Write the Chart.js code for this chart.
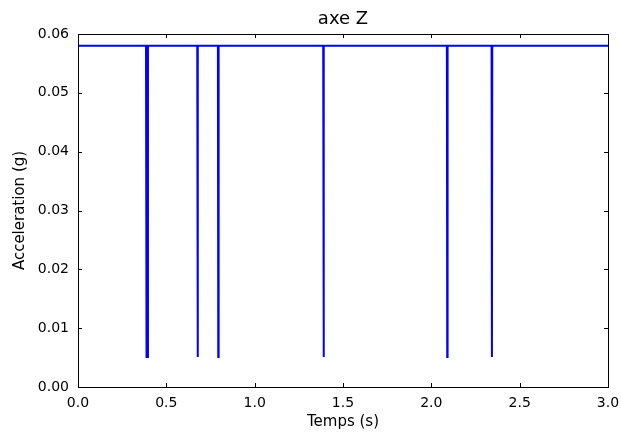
<!DOCTYPE html>
<html>
<head>
<meta charset="utf-8">
<script src="https://cdn.jsdelivr.net/npm/chart.js@4.4.1/dist/chart.umd.min.js"></script>
<style>
  html, body { margin: 0; padding: 0; background: #fff; }
  canvas { display: block; }
</style>
</head>
<body>
<canvas id="axeZChart" width="621" height="434"></canvas>
<script>
// signal samples (s, g)
const times = [0.000, 0.385, 0.388, 0.393, 0.396, 0.675, 0.677, 0.679,
               0.792, 0.794, 0.796, 1.388, 1.390, 1.392, 2.088, 2.090,
               2.092, 2.341, 2.343, 2.345, 3.000];
const accel = [0.058, 0.058, 0.0051, 0.0051, 0.058, 0.058, 0.0051, 0.058,
               0.058, 0.0051, 0.058, 0.058, 0.0051, 0.058, 0.058, 0.0051,
               0.058, 0.058, 0.0051, 0.058, 0.058];

const xTicks = [0, 0.5, 1.0, 1.5, 2.0, 2.5, 3.0];
const yTicks = [0, 0.01, 0.02, 0.03, 0.04, 0.05, 0.06];

const FONT = 'DejaVu Sans';

// box around the axes with small inward ticks on all four sides
const framePlugin = {
    id: 'frame',
    afterDatasetsDraw(chart) {
        const { ctx, chartArea: a, scales } = chart;
        const len = 4;
        ctx.save();
        ctx.strokeStyle = '#000';
        ctx.lineWidth = 1;
        ctx.beginPath();
        xTicks.forEach(v => {
            const px = Math.round(scales.x.getPixelForValue(v)) + 0.5;
            ctx.moveTo(px, a.bottom); ctx.lineTo(px, a.bottom - len);
            ctx.moveTo(px, a.top); ctx.lineTo(px, a.top + len);
        });
        yTicks.forEach(v => {
            const py = Math.round(scales.y.getPixelForValue(v)) + 0.5;
            ctx.moveTo(a.left, py); ctx.lineTo(a.left + len, py);
            ctx.moveTo(a.right, py); ctx.lineTo(a.right - len, py);
        });
        ctx.stroke();
        ctx.strokeRect(Math.round(a.left) + 0.5, Math.round(a.top) + 0.5,
                       Math.round(a.right - a.left), Math.round(a.bottom - a.top));
        ctx.restore();
    }
};

new Chart(document.getElementById('axeZChart').getContext('2d'), {
    type: 'scatter',
    data: {
        datasets: [{
            data: times.map((t, i) => ({ x: t, y: accel[i] })),
            showLine: true,
            borderColor: '#0000ff',
            borderWidth: 2,
            pointRadius: 0,
            tension: 0
        }]
    },
    options: {
        responsive: false,
        animation: false,
        layout: { padding: { left: 0, right: 13, top: 0, bottom: 0 } },
        plugins: {
            legend: { display: false },
            tooltip: { enabled: false },
            title: {
                display: true,
                text: 'axe Z',
                fullSize: false,
                color: '#000',
                font: { family: FONT, size: 18, weight: 'normal' },
                padding: { top: 9, bottom: 3.4 }
            }
        },
        scales: {
            x: {
                type: 'linear',
                min: 0,
                max: 3,
                afterFit: s => { s.height = 47; s.paddingLeft = 0; s.paddingRight = 0; },
                afterBuildTicks: s => { s.ticks = xTicks.map(v => ({ value: v })); },
                grid: { display: false, drawTicks: false },
                border: { display: false },
                ticks: {
                    color: '#000',
                    padding: 8,
                    maxRotation: 0,
                    font: { family: FONT, size: 14 },
                    callback: v => v.toFixed(1)
                },
                title: {
                    display: true,
                    text: 'Temps (s)',
                    color: '#000',
                    font: { family: FONT, size: 15 },
                    padding: { top: 0, bottom: 3 }
                }
            },
            y: {
                type: 'linear',
                min: 0,
                max: 0.06,
                afterFit: s => { s.width = 78; },
                afterBuildTicks: s => { s.ticks = yTicks.map(v => ({ value: v })); },
                grid: { display: false, drawTicks: false },
                border: { display: false },
                ticks: {
                    color: '#000',
                    padding: 9,
                    font: { family: FONT, size: 14 },
                    callback: v => v.toFixed(2)
                },
                title: {
                    display: true,
                    text: 'Acceleration (g)',
                    color: '#000',
                    font: { family: FONT, size: 15 },
                    padding: { top: 11, bottom: 0 }
                }
            }
        }
    },
    plugins: [framePlugin]
});
</script>
</body>
</html>
